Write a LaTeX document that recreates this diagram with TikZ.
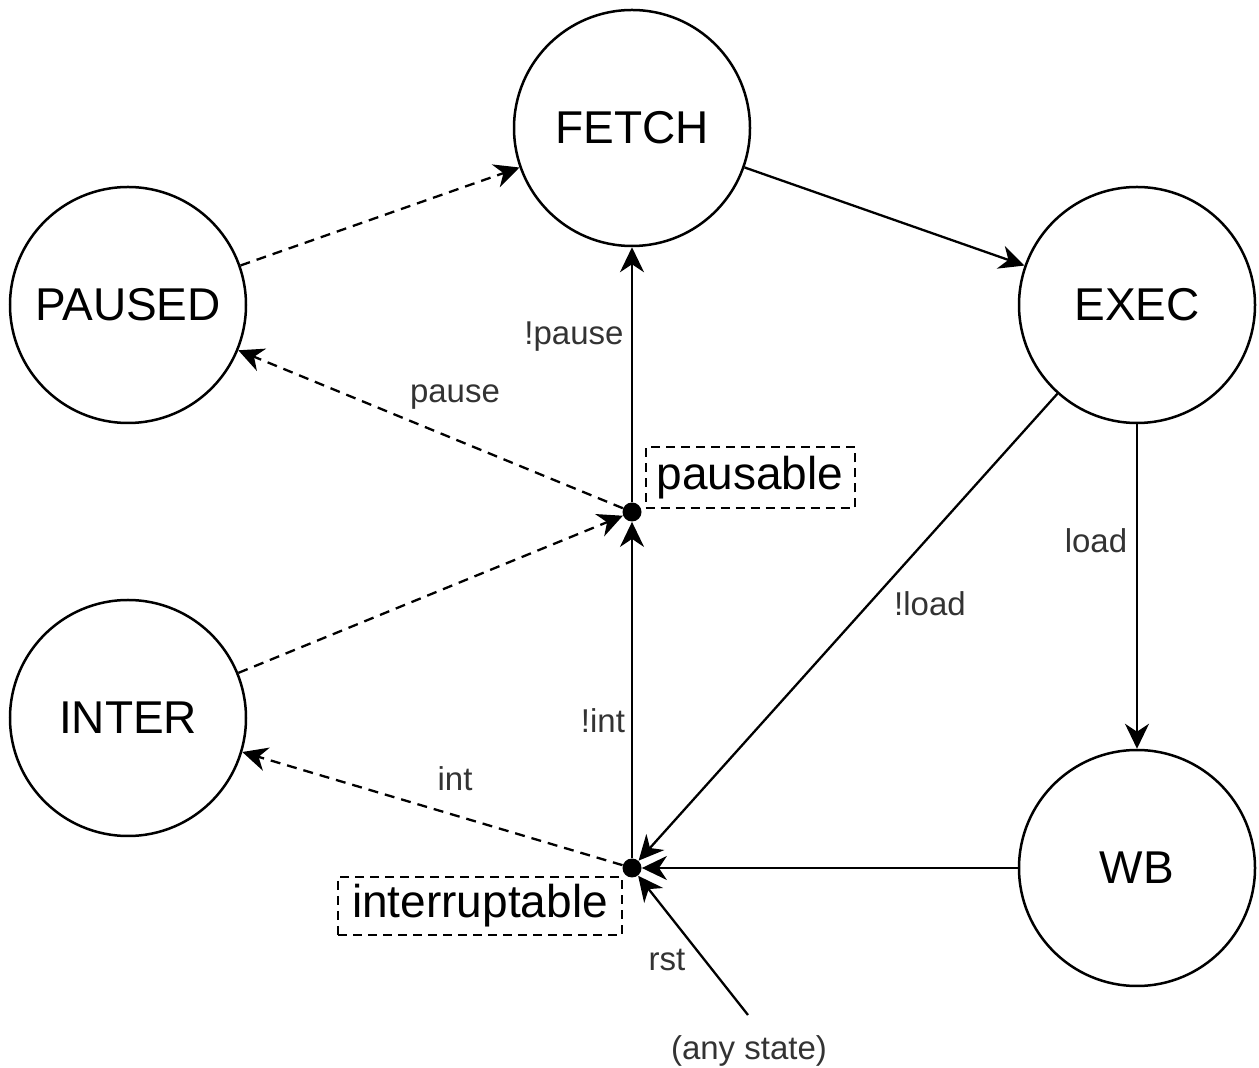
\documentclass[tikz,border=0pt]{standalone}
\usepackage{fontspec}
\setmainfont{Liberation Sans}
\usetikzlibrary{arrows.meta}

\begin{document}
\begin{tikzpicture}[x=0.5pt,y=-0.5pt]
\tikzstyle{state}=[draw,circle,line width=1.25pt,minimum size=118pt,inner sep=0pt,font=\fontsize{23}{27}\selectfont]
\tikzstyle{junction}=[circle,fill,minimum size=9.5pt,inner sep=0pt]
\tikzstyle{flag}=[draw,line width=1pt,dash pattern=on 4.5pt off 3pt,inner sep=2pt,font=\fontsize{23}{27}\selectfont]
\tikzstyle{trans}=[line width=1.15pt,-{Stealth[length=12.5pt,width=12pt,inset=4pt]}]
\tikzstyle{cond}=[trans,dash pattern=on 5pt off 3.5pt]
\tikzstyle{lbl}=[font=\fontsize{16.5}{19}\selectfont,text=black!80]

\useasboundingbox (0,0) rectangle (1259,1068);

\node (fetch) [state] at (632,128) {FETCH};
\node (paused) [state] at (128,305) {PAUSED};
\node (exec) [state] at (1137,305) {EXEC};
\node (inter) [state] at (128,718) {INTER};
\node (wb) [state] at (1137,868) {WB};

\node (pp) [junction] at (632,512) {};
\node (ip) [junction] at (632,868) {};

\node (ppbox) [flag,minimum width=104.5pt,minimum height=30.5pt] at (750,478) {pausable};
\node (ipbox) [flag,minimum width=142pt,minimum height=29pt] at (480,906) {interruptable};

\node (any) [lbl] at (749,1051) {(any state)};
\coordinate (rstfrom) at (748,1015);

\draw [trans] (fetch) -- (exec);
\draw [trans] (exec) -- (wb);
\draw [trans] (exec) -- (ip);
\draw [trans] (wb) -- (ip);
\draw [trans] (ip) -- (pp);
\draw [trans] (pp) -- (fetch);
\draw [trans] (rstfrom) -- (ip);

\draw [cond] (paused) -- (fetch);
\draw [cond] (pp) -- (paused);
\draw [cond] (inter) -- (pp);
\draw [cond] (ip) -- (inter);

\node (lnopause) [lbl] at (574,337) {!pause};
\node (lpause) [lbl] at (455,397) {pause};
\node (lnoint) [lbl] at (603,721) {!int};
\node (lint) [lbl] at (455,779) {int};
\node (lload) [lbl] at (1096,541) {load};
\node (lnoload) [lbl] at (930,604) {!load};
\node (lrst) [lbl] at (667,960) {rst};

\end{tikzpicture}
\end{document}
